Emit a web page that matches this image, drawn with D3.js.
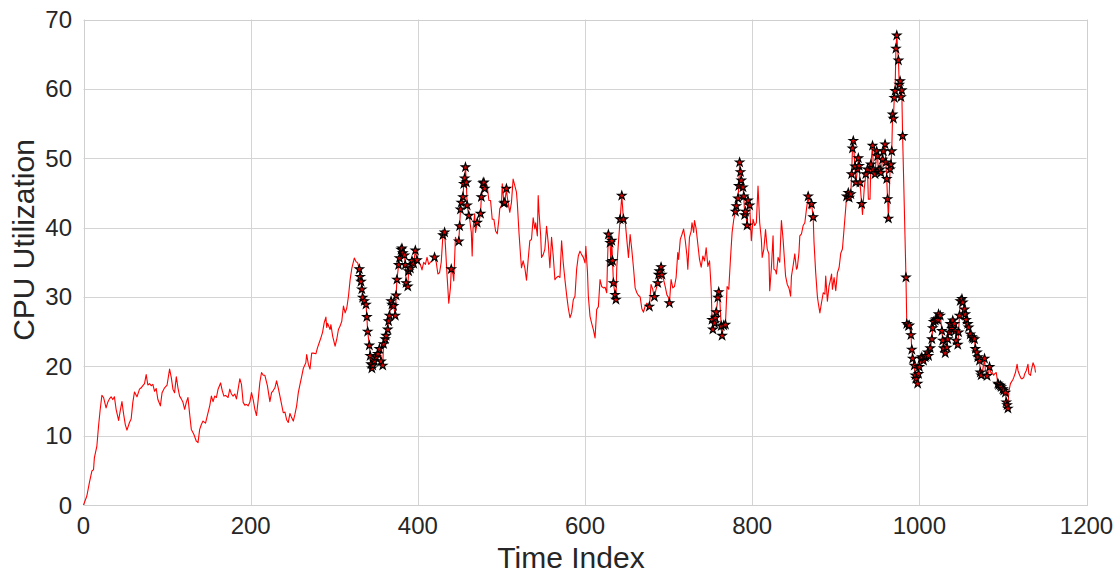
<!DOCTYPE html>
<html>
<head>
<meta charset="utf-8">
<script src="https://cdn.jsdelivr.net/npm/d3@7"></script>
<style>
  body { margin: 0; background: #fff; }
  svg text { font-family: "Liberation Sans", Arial, sans-serif; fill: #262626; }
</style>
</head>
<body>
<script>
// values
var timeIndex = [
  0,4,7,10,12,13,16,18,20,22,
  24,27,29,31,33,35,37,39,42,44,
  46,48,50,52,55,57,59,61,64,67,
  69,71,73,75,77,79,81,83,85,87,
  89,92,94,97,100,103,105,107,109,111,
  113,115,117,119,121,123,125,127,129,132,
  135,137,139,141,143,146,148,151,153,155,
  157,159,161,164,166,168,170,173,175,177,
  179,181,183,185,187,189,191,193,195,197,
  199,201,203,205,207,209,211,213,215,217,
  220,223,225,227,229,231,233,235,237,239,
  241,243,245,247,249,251,253,255,257,259,
  261,263,266,267,269,271,273,275,278,280,
  282,284,286,288,290,291,292,295,296,298,
  301,303,305,307,309,311,313,315,317,319,
  321,324,326,328,330,331,332,333,334,336,
  338,339,340,342,343,344,345,346,348,350,
  352,354,356,358,359,361,362,364,365,366,
  368,369,371,373,374,375,377,378,380,381,
  382,384,385,386,388,389,391,393,395,397,
  399,401,403,405,407,409,411,413,415,417,
  420,422,424,426,428,430,432,433,435,436,
  437,439,440,442,443,445,447,449,450,451,
  452,454,455,456,457,458,459,461,462,464,
  465,466,468,469,471,473,475,476,478,479,
  480,482,483,485,487,489,491,493,495,497,
  498,500,501,503,504,506,507,510,512,514,
  515,518,519,521,523,524,526,528,530,532,
  534,536,538,540,541,543,544,545,547,548,
  550,552,554,556,558,560,562,564,566,568,
  570,572,574,576,578,580,582,584,586,588,
  590,592,594,596,598,600,601,603,604,606,
  608,610,612,614,616,618,620,622,624,626,
  627,628,630,631,632,633,634,636,637,638,
  640,642,644,646,648,650,652,654,656,658,
  660,662,664,666,668,670,672,674,677,679,
  681,683,685,687,688,689,691,692,694,696,
  698,700,701,703,705,707,709,711,712,714,
  716,718,720,722,723,725,727,728,730,731,
  733,735,737,739,741,743,745,747,749,751,
  752,753,755,756,757,759,760,761,763,764,
  766,768,770,772,774,776,778,780,781,783,
  784,785,786,787,789,790,791,792,794,795,
  797,799,801,803,805,807,809,811,812,814,
  816,818,820,821,823,825,826,828,829,831,
  833,834,835,837,839,840,842,844,846,847,
  849,851,853,854,856,857,859,861,863,865,
  867,869,871,873,874,876,878,879,881,883,
  885,887,888,890,892,893,895,896,898,900,
  902,904,906,908,910,912,913,915,916,918,
  919,920,921,923,924,926,927,928,929,931,
  932,934,936,938,939,941,942,944,945,947,
  949,950,951,953,954,956,957,959,960,961,
  962,963,965,966,967,968,969,970,971,972,
  973,975,976,977,978,979,980,982,984,985,
  987,988,990,991,992,994,995,996,998,999,
  1000,1002,1003,1005,1007,1008,1010,1011,1013,1015,
  1016,1017,1019,1020,1022,1023,1025,1027,1028,1029,
  1031,1033,1034,1036,1037,1039,1040,1042,1043,1044,
  1046,1047,1048,1049,1051,1052,1054,1055,1056,1058,
  1059,1061,1063,1064,1066,1067,1069,1070,1072,1073,
  1074,1076,1077,1078,1079,1081,1083,1084,1086,1087,
  1089,1090,1092,1094,1095,1097,1098,1100,1101,1103,
  1104,1105,1106,1107,1109,1112,1113,1115,1117,1118,
  1120,1122,1123,1125,1126,1128,1130,1131,1133,1134,
  1136,1138,1139
];

var cpuUtil = [
  0,1.3,3.2,4.9,5.1,6.8,8.5,11.4,13.8,15.8,
  15.5,14.0,14.8,15.3,15.6,15.2,15.6,13.8,12.2,13.6,
  14.9,13.1,11.6,10.8,11.9,12.4,14.8,16.3,15.6,16.7,
  16.9,17.2,17.5,18.8,17.3,17.5,17.2,17.4,16.4,16.8,
  15.2,14.3,16.2,16.9,17.3,19.6,18.4,16.7,16.2,18.5,
  16.9,15.7,15.3,14.8,13.8,14.8,15.5,13.1,10.9,10.2,
  9.2,9.0,10.9,11.6,12.1,11.8,12.8,14.3,15.7,14.9,
  15.7,15.5,16.7,17.6,16.5,15.7,15.8,15.5,16.7,16.0,
  15.7,16.0,15.3,16.7,18.2,17.4,14.8,14.4,14.5,14.3,
  14.8,16.2,15.2,13.8,12.9,15.2,17.7,19.1,18.7,18.7,
  17.2,14.9,16.2,16.5,16.9,17.9,16.9,15.7,14.5,13.3,
  13.4,12.3,11.9,13.2,12.6,12.1,13.1,14.3,16.2,17.4,
  18.5,19.7,20.5,21.7,20.3,19.6,21.9,21.9,21.8,22.7,
  23.4,24.1,24.9,26.3,27.1,25.6,26.2,25.3,26.0,24.4,
  22.9,23.9,25.3,25.8,26.5,28.7,27.7,28.4,30.1,32.5,
  34.1,35.6,35.1,34.9,34.0,32.9,32.2,31.1,29.9,29.4,
  28.9,27.1,25.0,23.0,21.5,20.3,19.7,20.1,20.7,21.3,
  21.8,22.5,20.7,20.1,23.2,23.9,24.4,25.3,26.5,27.3,
  29.4,28.9,28.7,27.3,30.2,32.5,34.6,35.6,36.8,37.0,
  36.3,36.0,34.6,32.0,31.5,33.7,34.1,35.2,34.8,36.7,
  35.3,35.0,34.7,33.9,35.0,34.7,35.7,34.7,35.0,35.2,
  35.7,35.0,33.3,33.5,35.0,38.9,39.3,37.4,33.0,31.1,
  29.1,31.3,34.0,33.3,32.3,38.6,37.9,38.0,40.2,42.6,
  43.6,44.4,46.3,47.1,48.7,46.5,43.2,41.7,41.2,39.3,
  35.9,39.8,42.0,39.3,40.7,40.7,42.0,44.4,46.4,46.5,
  45.6,46.3,46.0,43.9,43.9,41.2,41.2,39.5,39.1,41.2,
  42.7,43.2,46.3,43.5,43.6,45.6,44.4,42.2,43.6,47.0,
  46.5,45.1,43.6,39.3,35.8,34.2,35.2,34.2,32.4,35.4,
  38.1,38.3,41.4,39.8,40.7,38.8,44.6,42.2,38.8,35.7,
  36.1,36.9,40.2,37.8,34.2,38.6,35.9,32.5,32.8,33.0,
  32.8,38.1,34.9,32.5,30.3,28.4,27.0,27.7,29.6,30.1,
  34.0,35.9,36.6,36.1,35.7,34.9,37.3,33.5,30.1,27.2,
  26.2,25.3,24.1,28.2,28.6,32.5,31.5,31.3,31.4,30.6,
  35.4,39.0,37.8,35.0,38.1,35.2,32.0,30.3,29.6,34.2,
  37.8,41.2,44.6,41.2,41.0,38.3,35.7,39.0,36.8,34.2,
  31.3,30.6,30.2,30.0,28.3,27.8,28.7,29.1,28.6,31.8,
  31.1,30.0,31.1,32.0,33.2,33.7,34.3,33.2,32.5,31.5,
  30.3,29.9,29.1,32.5,31.3,31.5,32.8,36.4,35.4,38.3,
  39.0,39.8,38.1,35.9,34.0,38.6,39.5,40.7,39.3,41.0,
  39.8,37.6,35.4,34.3,35.9,35.2,37.1,34.4,35.2,31.1,
  26.7,25.3,26.2,27.0,27.8,29.9,30.7,30.1,25.8,24.4,
  25.9,26.0,31.5,31.1,35.4,39.3,41.2,42.3,43.1,44.2,
  46.0,49.4,48.0,46.8,45.8,44.5,41.8,42.3,40.3,43.9,
  43.2,38.1,41.2,40.3,40.7,46.0,40.7,38.3,35.7,36.9,
  39.7,36.9,36.2,30.9,34.2,38.8,34.0,33.8,33.3,35.7,
  35.0,38.1,41.0,38.3,34.7,33.0,31.8,31.3,30.1,33.0,
  34.5,36.2,34.0,34.2,36.4,38.8,39.1,40.3,40.7,42.7,
  44.5,42.7,43.4,41.5,37.9,33.5,30.1,29.2,27.7,29.2,
  30.6,30.4,33.0,29.4,31.6,32.1,33.3,31.1,32.8,30.9,
  33.5,34.2,36.3,36.9,39.9,42.9,44.5,45.0,44.3,44.8,
  47.7,51.4,52.5,48.8,46.5,48.4,50.0,48.9,46.5,43.4,
  41.9,45.5,47.7,48.4,44.1,44.1,49.1,51.8,48.4,47.7,
  51.0,50.3,48.2,48.4,47.9,49.8,51.0,52.0,49.4,47.0,
  44.1,41.3,48.4,49.1,51.0,56.3,55.7,58.7,59.7,65.8,
  67.7,64.1,60.6,61.1,58.8,59.8,53.2,43.1,32.8,26.1,
  25.8,25.9,24.5,22.4,21.1,20.1,18.7,18.2,17.5,18.9,
  19.9,21.1,21.3,20.8,21.3,21.5,22.0,21.5,22.6,23.9,
  25.5,26.4,26.6,26.8,26.7,27.5,27.3,25.1,23.7,22.6,
  21.9,22.7,23.9,24.9,26.1,25.4,26.6,26.1,25.1,23.7,
  23.1,24.9,27.3,29.4,29.7,29.2,28.2,27.5,26.7,26.1,
  25.6,24.6,24.2,24.0,23.9,22.5,22.0,21.3,20.8,19.1,
  18.7,19.6,20.3,21.1,19.4,18.6,19.1,19.9,18.9,19.1,
  18.7,18.9,19.1,17.5,17.3,17.2,17.0,16.7,16.5,16.2,
  14.8,14.4,13.9,16.3,17.5,18.1,18.4,19.1,20.3,19.4,
  18.7,18.2,18.2,18.4,18.9,19.4,20.3,18.9,18.7,19.4,
  20.5,19.9,19.1
];

// time index windows flagged as anomalies (star markers)
var anomalyRanges = [
  [330,399],[420,420],[430,432],[440,440],[449,461],[471,471],[475,480],
  [503,506],[628,637],[642,646],[677,677],[683,683],[687,692],[701,701],
  [752,760],[763,768],[780,797],[867,867],[871,873],[913,931],[936,938],
  [942,980],[984,1074],[1078,1078],[1081,1081],[1084,1084],[1094,1106]
];

var xTicks = [0,200,400,600,800,1000,1200];
var yTicks = [0,10,20,30,40,50,60,70];

var width = 1117, height = 576;
var margin = {top: 19.5, right: 30.5, bottom: 71, left: 83.5};

var svg = d3.select("body").append("svg")
  .attr("width", width)
  .attr("height", height);

var x = d3.scaleLinear().domain([0, 1200]).range([margin.left, width - margin.right]);
var y = d3.scaleLinear().domain([0, 70]).range([height - margin.bottom, margin.top]);

var data = timeIndex.map(function(t, i) { return {t: t, v: cpuUtil[i]}; });
var anomalies = data.filter(function(d) {
  return anomalyRanges.some(function(r) { return d.t >= r[0] && d.t <= r[1]; });
});

// grid
svg.append("g").selectAll("line").data(xTicks).enter().append("line")
  .attr("x1", d => Math.round(x(d)) + 0.5).attr("x2", d => Math.round(x(d)) + 0.5)
  .attr("y1", y(0)).attr("y2", y(70))
  .attr("stroke", "#d4d4d4").attr("stroke-width", 1);
svg.append("g").selectAll("line").data(yTicks).enter().append("line")
  .attr("x1", x(0)).attr("x2", x(1200))
  .attr("y1", d => Math.round(y(d)) + 0.5).attr("y2", d => Math.round(y(d)) + 0.5)
  .attr("stroke", "#d4d4d4").attr("stroke-width", 1);

// axes frame
svg.append("rect")
  .attr("x", Math.round(x(0)) + 0.5).attr("y", Math.round(y(70)) + 0.5)
  .attr("width", Math.round(x(1200)) - Math.round(x(0)))
  .attr("height", Math.round(y(0)) - Math.round(y(70)))
  .attr("fill", "none").attr("stroke", "#cfcfcf");

// tick labels
svg.append("g").selectAll("text").data(xTicks).enter().append("text")
  .attr("x", d => x(d)).attr("y", 534)
  .attr("text-anchor", "middle")
  .style("font-size", "24px")
  .text(d => d);
svg.append("g").selectAll("text").data(yTicks).enter().append("text")
  .attr("x", 72).attr("y", d => y(d) + 8.5)
  .attr("text-anchor", "end")
  .style("font-size", "24px")
  .text(d => d);

// axis labels
svg.append("text")
  .attr("x", 571).attr("y", 568)
  .attr("text-anchor", "middle")
  .style("font-size", "30px")
  .text("Time Index");
svg.append("text")
  .attr("transform", "translate(34,240) rotate(-90)")
  .attr("text-anchor", "middle")
  .style("font-size", "30px")
  .text("CPU Utilization");

// series
var line = d3.line().x(d => x(d.t)).y(d => y(d.v));
svg.append("path")
  .datum(data)
  .attr("d", line)
  .attr("fill", "none")
  .attr("stroke", "#ff0000")
  .attr("stroke-width", 1.1)
  .attr("stroke-linejoin", "round");

// anomaly markers
var star = d3.symbol().type(d3.symbolStar).size(22);
svg.append("g").selectAll("path").data(anomalies).enter().append("path")
  .attr("d", star)
  .attr("transform", d => "translate(" + x(d.t) + "," + y(d.v) + ")")
  .attr("fill", "#e00000")
  .attr("stroke", "#000")
  .attr("stroke-width", 1.1);
</script>
</body>
</html>
